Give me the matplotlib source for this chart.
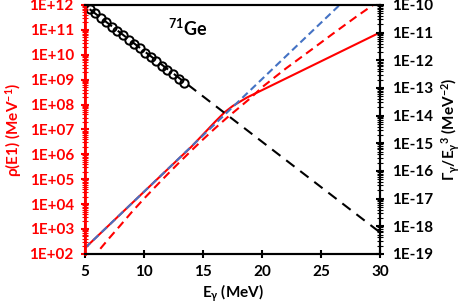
import matplotlib
matplotlib.use("Agg")
import matplotlib.pyplot as plt
from matplotlib.ticker import FixedLocator, LogLocator, NullFormatter

plt.rcParams["font.family"] = ["Lato", "DejaVu Sans"]
plt.rcParams["font.weight"] = "bold"
plt.rcParams["mathtext.fontset"] = "custom"
plt.rcParams["mathtext.rm"] = "Lato:bold"
plt.rcParams["mathtext.it"] = "Lato:bold"
plt.rcParams["mathtext.bf"] = "Lato:bold"
plt.rcParams["mathtext.default"] = "rm"

# black: Gamma_gamma / E_gamma^3 data (right axis)
circ_e = [5.4, 5.87, 6.34, 6.81, 7.28, 7.75, 8.22, 8.69, 9.16, 9.63, 10.1,
          10.57, 11.04, 11.51, 11.98, 12.45, 12.92, 13.4]
circ_y = [7.1e-11, 4.9e-11, 3.4e-11, 2.4e-11, 1.65e-11, 1.15e-11, 8.0e-12,
          5.6e-12, 3.9e-12, 2.7e-12, 1.9e-12, 1.3e-12, 9.2e-13, 6.4e-13,
          4.4e-13, 3.1e-13, 2.15e-13, 1.5e-13]
fit_e = [5.4, 30]
fit_y = [7.0e-11, 5.8e-19]

# red / blue: rho(E1) (left axis)
solid_e = [5, 8, 11, 13, 14, 15, 16, 16.8, 17.5, 18.7, 30]
solid_y = [1.7e2, 3.9e3, 8.9e4, 7.1e5, 2.0e6, 6.3e6, 2.0e7, 4.8e7, 8.7e7,
           1.9e8, 8.0e10]
rdash_e = [6.3, 7, 8, 9, 10, 11, 12, 13, 14, 15, 16, 17, 18, 19, 20, 22, 24,
           26, 28, 30]
rdash_y = [1.6e2, 4.0e2, 1.4e3, 5.0e3, 1.66e4, 5.2e4, 1.6e5, 4.8e5, 1.4e6,
           4.0e6, 1.1e7, 2.9e7, 7.2e7, 1.8e8, 5.0e8, 2.8e9, 1.4e10, 7.1e10,
           3.5e11, 1.6e12]
blue_e = [5, 27]
blue_y = [1.7e2, 1.6e12]

RED = "#FF0000"
BLUE = "#4472C4"

fig = plt.figure(figsize=(4.64, 3.07), dpi=100)
ax = fig.add_axes([0.183, 0.173, 0.637, 0.811])
ax2 = ax.twinx()

ax.plot(solid_e, solid_y, color=RED, lw=1.5, zorder=2)
ax.plot(rdash_e, rdash_y, color=RED, lw=1.5, dashes=(4, 2.5), zorder=3)
ax.plot(blue_e, blue_y, color=BLUE, lw=1.5, dashes=(3.5, 2), zorder=4)

ax2.plot(fit_e, fit_y, color="black", lw=1.5, dashes=(5, 3.5))
ax2.plot(circ_e, circ_y, "o", mfc="none", mec="black", mew=1.4, ms=6)

ax.set_xlim(5, 30)
ax.set_yscale("log")
ax.set_ylim(1e2, 1e12)
ax2.set_yscale("log")
ax2.set_ylim(1e-19, 1e-10)

ax.set_xticks([5, 10, 15, 20, 25, 30])
ax.tick_params(axis="x", direction="inout", length=6, width=1.5,
               labelsize=11, pad=5, top=False)

left_ticks = [10.0 ** k for k in range(2, 13)]
ax.yaxis.set_major_locator(FixedLocator(left_ticks))
ax.set_yticklabels(["1E+%02d" % k for k in range(2, 13)])
ax.yaxis.set_minor_locator(LogLocator(base=10, subs=range(2, 10), numticks=20))
ax.yaxis.set_minor_formatter(NullFormatter())
ax.tick_params(axis="y", which="major", direction="inout", length=6,
               width=1.5, colors=RED, labelsize=11, pad=5)
ax.tick_params(axis="y", which="minor", direction="inout", length=4,
               width=0.8, colors=RED)

right_ticks = [10.0 ** k for k in range(-19, -9)]
ax2.yaxis.set_major_locator(FixedLocator(right_ticks))
ax2.set_yticklabels(["1E-%d" % -k for k in range(-19, -9)])
ax2.yaxis.set_minor_locator(LogLocator(base=10, subs=range(2, 10), numticks=20))
ax2.yaxis.set_minor_formatter(NullFormatter())
ax2.tick_params(axis="y", which="major", direction="inout", length=6,
                width=1.5, colors="black", labelsize=11, pad=5)
ax2.tick_params(axis="y", which="minor", direction="inout", length=4,
                width=0.8, colors="black")

for a in (ax, ax2):
    for s in a.spines.values():
        s.set_linewidth(1.5)
ax.spines["left"].set_color(RED)
ax2.spines["left"].set_color(RED)
ax2.spines["left"].set_linewidth(2)

ax.set_xlabel(r"E$_\gamma$ (MeV)", fontsize=11, fontweight="bold", labelpad=3)
ax.set_ylabel(r"ρ(E1) (MeV$^{-1}$)", fontsize=11, color=RED,
              fontweight="bold", labelpad=4)
ax2.set_ylabel(r"Γ$_\gamma$/E$_\gamma$$^{3}$ (MeV$^{-2}$)", fontsize=11,
               fontweight="bold", labelpad=5)

ax.text(13.7, 1.2e11, r"$^{71}$Ge", fontsize=13, fontweight="bold",
        ha="center", va="center")

fig.savefig("out.png", dpi=100)
